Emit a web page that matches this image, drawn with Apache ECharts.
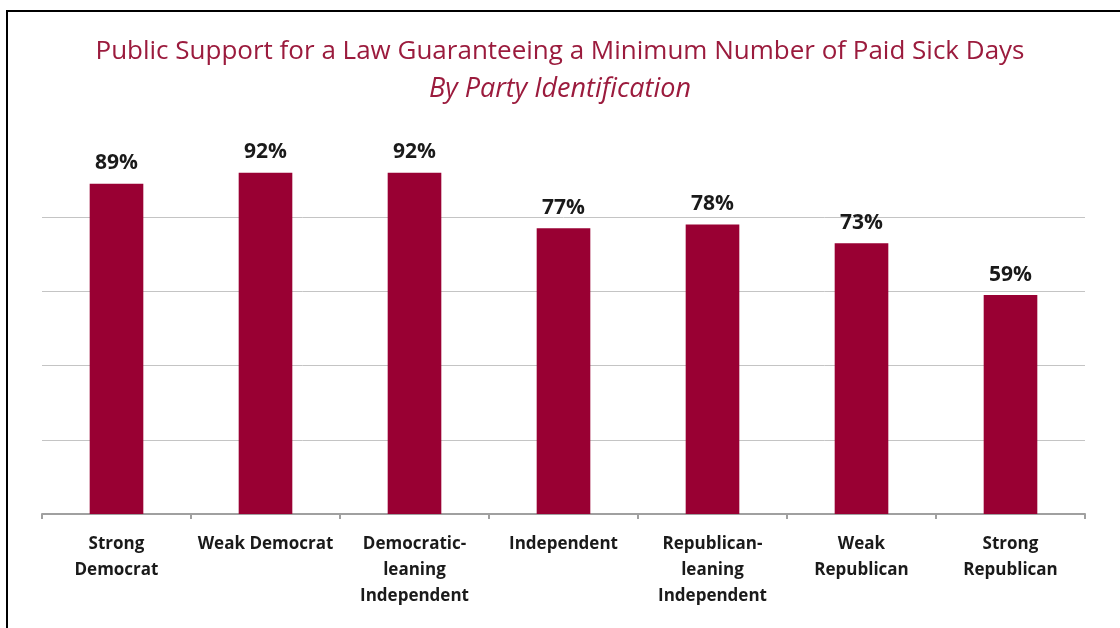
<!DOCTYPE html>
<html>
<head>
<meta charset="utf-8">
<script src="https://cdn.jsdelivr.net/npm/echarts@6/dist/echarts.min.js"></script>
<style>
  html, body { margin: 0; padding: 0; background: #fff; }
  #chart { width: 1120px; height: 628px; }
  #frame {
    position: absolute; left: 6px; top: 10px; width: 1200px; height: 700px;
    border-left: 2px solid #000; border-top: 2px solid #000; pointer-events: none;
  }
</style>
</head>
<body>
<div id="chart"></div>
<div id="frame"></div>
<script>
const categories = [
  "Strong\nDemocrat",
  "Weak Democrat",
  "Democratic-\nleaning\nIndependent",
  "Independent",
  "Republican-\nleaning\nIndependent",
  "Weak\nRepublican",
  "Strong\nRepublican"
];
const support = [89, 92, 92, 77, 78, 73, 59];

const titleText = "Public Support for a Law Guaranteeing a Minimum Number of Paid Sick Days";
const subtitleText = "By Party Identification";

const red = "#990033";
const font = "Open Sans";

const chart = echarts.init(document.getElementById("chart"));

chart.setOption({
  animation: false,
  title: {
    text: titleText,
    subtext: subtitleText,
    left: "center",
    top: 34,
    itemGap: 11,
    textStyle: { fontFamily: font, fontSize: 26, fontWeight: "normal", color: "#9b1b3d" },
    subtextStyle: { fontFamily: font, fontSize: 27, fontStyle: "italic", color: "#9b1b3d" }
  },
  grid: { left: 42, right: 35, top: 143, bottom: 114 },
  xAxis: {
    type: "category",
    data: categories,
    axisLine: { lineStyle: { color: "#a0a0a0", width: 2 } },
    axisTick: { show: true, length: 5, lineStyle: { color: "#a0a0a0", width: 2 } },
    axisLabel: {
      interval: 0,
      margin: 17,
      fontFamily: font,
      fontSize: 17,
      fontWeight: "bold",
      lineHeight: 26,
      color: "#1a1a1a"
    }
  },
  yAxis: {
    type: "value",
    min: 0,
    max: 100,
    interval: 20,
    axisLine: { show: false },
    axisTick: { show: false },
    axisLabel: { show: false },
    splitLine: {
      // no gridline at 100, like the original
      lineStyle: { color: ["#c4c4c4", "#c4c4c4", "#c4c4c4", "#c4c4c4", "#c4c4c4", "rgba(0,0,0,0)"], width: 1 }
    }
  },
  series: [{
    type: "bar",
    data: support,
    barWidth: "36%",
    itemStyle: { color: red },
    label: {
      show: true,
      position: "top",
      distance: 10,
      formatter: "{c}%",
      fontFamily: font,
      fontSize: 21,
      fontWeight: "bold",
      color: "#1a1a1a"
    }
  }]
});
</script>
</body>
</html>
